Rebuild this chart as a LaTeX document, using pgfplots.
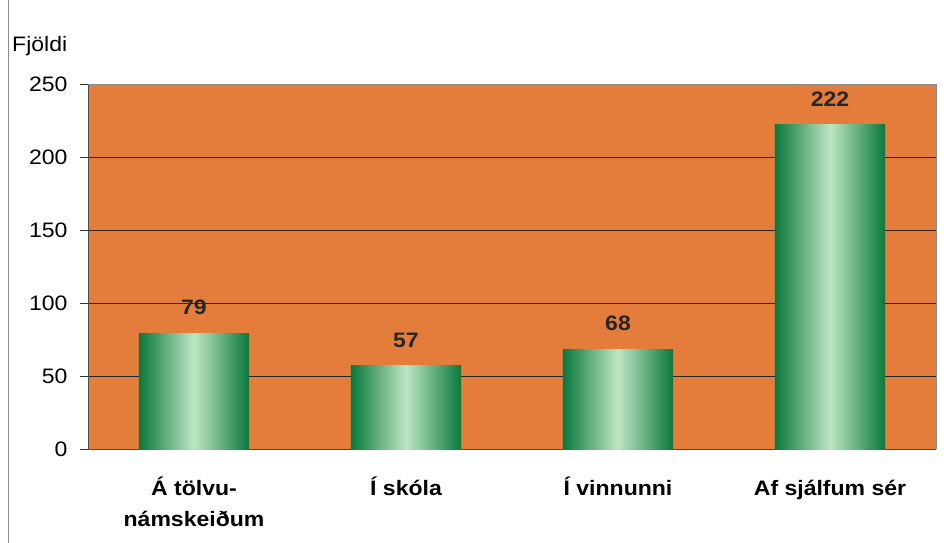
\documentclass[border=0pt]{standalone}
\usepackage{pgfplots}
\pgfplotsset{compat=1.18}
\usepackage{fontspec}
\setmainfont{Liberation Sans}[FakeStretch=1.1]
\definecolor{bgorange}{RGB}{228,124,60}
\definecolor{gdark}{RGB}{10,120,60}
\definecolor{glight}{RGB}{190,230,196}
\begin{document}
\begin{tikzpicture}
\useasboundingbox (-88bp,-94bp) rectangle (856bp,449bp);
\draw[black!45, line width=0.8bp] (-80bp,-94bp) -- (-80bp,449bp);
\begin{axis}[
  at={(0,0)}, anchor=south west,
  scale only axis, width=848bp, height=365bp,
  xmin=-0.5, xmax=3.5, ymin=0, ymax=250,
  axis background/.style={fill=bgorange},
  axis line style={black!70, line width=0.7bp},
  xtick={0,1,2,3},
  xticklabels={{\begin{tabular}[t]{@{}c@{}}Á tölvu-\\námskeiðum\end{tabular}},{Í skóla},{Í vinnunni},{Af sjálfum sér}},
  xticklabel style={font=\bfseries\fontsize{21}{32}\selectfont, anchor=base, yshift=-38bp},
  x tick style={draw=none},
  extra x ticks={-0.5,0.5,1.5,2.5,3.5},
  extra x tick labels={},
  extra x tick style={major tick length=8bp, tick style={black!70, line width=0.7bp}, tick align=outside, grid=none},
  ytick={0,50,100,150,200,250},
  yticklabel style={font=\fontsize{21}{24}\selectfont, xshift=-9bp},
  /pgf/number format/assume math mode=true,
  y tick style={black!80, line width=0.7bp},
  major tick length=8bp, tick align=outside,
  ymajorgrids, grid style={black!85, line width=0.7bp},
  axis x line*=bottom, axis y line*=left,
  clip=false,
  no markers,
  nodes near coords,
  nodes near coords style={font=\bfseries\fontsize{21}{24}\selectfont, yshift=15bp, text=black!85},
  mybar/.style={ybar, bar width=0.52, bar shift=0pt, draw=none, left color=gdark, right color=gdark, middle color=glight},
]
\addplot[mybar] coordinates {(0,79)};
\addplot[mybar] coordinates {(1,57)};
\addplot[mybar] coordinates {(2,68)};
\addplot[mybar] coordinates {(3,222)};
\end{axis}
\draw[black!45, line width=0.7bp] (0,365bp) -- (848bp,365bp) -- (848bp,0);
\node[anchor=west, font=\fontsize{21}{24}\selectfont, inner sep=0pt] at (-76bp,403bp) {Fjöldi};
\end{tikzpicture}
\end{document}
